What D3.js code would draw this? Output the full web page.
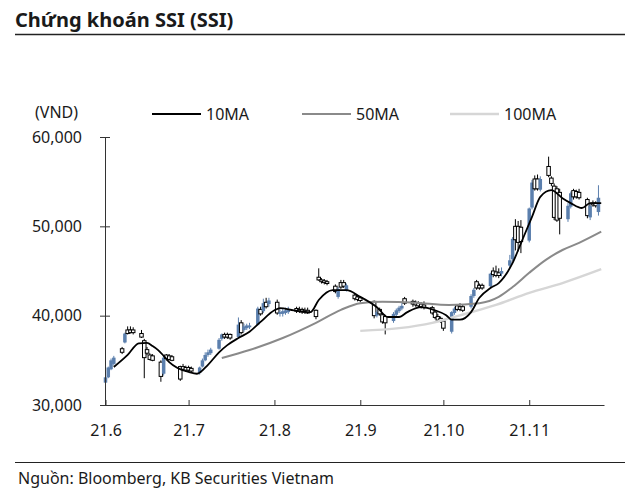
<!DOCTYPE html>
<html><head><meta charset="utf-8">
<script src="https://cdn.jsdelivr.net/npm/d3@7/dist/d3.min.js"></script>
<style>
html,body{margin:0;padding:0;background:#fff;}
svg{display:block;}
text{font-family:'Noto Sans',sans-serif;fill:#1a1a1a;}
</style></head>
<body>
<svg id="c" width="640" height="497"></svg>
<script>
// ---- DATA ----
const dates = ["2021-06-01","2021-06-02","2021-06-03","2021-06-04","2021-06-07","2021-06-08","2021-06-09","2021-06-10","2021-06-11","2021-06-14","2021-06-15","2021-06-16","2021-06-17","2021-06-18","2021-06-21","2021-06-22","2021-06-23","2021-06-24","2021-06-25","2021-06-28","2021-06-29","2021-06-30",
"2021-07-01","2021-07-02","2021-07-05","2021-07-06","2021-07-07","2021-07-08","2021-07-09","2021-07-12","2021-07-13","2021-07-14","2021-07-15","2021-07-16","2021-07-19","2021-07-20","2021-07-21","2021-07-22","2021-07-23","2021-07-26","2021-07-27","2021-07-28","2021-07-29","2021-07-30",
"2021-08-02","2021-08-03","2021-08-04","2021-08-05","2021-08-06","2021-08-09","2021-08-10","2021-08-11","2021-08-12","2021-08-13","2021-08-16","2021-08-17","2021-08-18","2021-08-19","2021-08-20","2021-08-23","2021-08-24","2021-08-25","2021-08-26","2021-08-27","2021-08-30","2021-08-31",
"2021-09-01","2021-09-06","2021-09-07","2021-09-08","2021-09-09","2021-09-10","2021-09-13","2021-09-14","2021-09-15","2021-09-16","2021-09-17","2021-09-20","2021-09-21","2021-09-22","2021-09-23","2021-09-24","2021-09-27","2021-09-28","2021-09-29","2021-09-30",
"2021-10-01","2021-10-04","2021-10-05","2021-10-06","2021-10-07","2021-10-08","2021-10-11","2021-10-12","2021-10-13","2021-10-14","2021-10-15","2021-10-18","2021-10-19","2021-10-20","2021-10-21","2021-10-22","2021-10-25","2021-10-26","2021-10-27","2021-10-28","2021-10-29",
"2021-11-01","2021-11-02","2021-11-03","2021-11-04","2021-11-05","2021-11-08","2021-11-09","2021-11-10","2021-11-11","2021-11-12","2021-11-15","2021-11-16","2021-11-17","2021-11-18","2021-11-19","2021-11-22","2021-11-23","2021-11-24","2021-11-25","2021-11-26"];

const open  = [32500,33100,34000,34600,36300,37000,38400,38400,38400,38000,37200,36200,35600,35500,34800,33500,35600,35500,35400,34300,34300,34200,
34200,34100,33600,34300,35000,35600,35800,36300,37400,37900,37900,37900,37600,39200,38400,38600,38700,39000,40700,40500,41500,41300,
41500,40200,40200,40300,40400,40800,40700,40700,40600,40600,40600,44300,44000,43900,43800,43300,42100,43700,43700,42800,42300,42100,
42000,41600,40000,40700,40100,39900,39400,40100,40500,40800,41900,41600,41500,41400,41300,41200,40900,40400,39900,39700,
39400,38200,40300,41100,41000,41000,41000,42200,43800,43400,43400,43300,45000,44900,44800,44700,45600,46300,50000,50000,49900,
48400,52100,55300,55300,54100,56700,55400,54500,54200,53800,50800,52200,54000,53900,53800,53000,51000,52600,52600,51600];

const high  = [33300,34300,35200,35500,36500,38100,38800,38800,38700,38400,37400,36500,35800,35700,35000,35500,35700,35700,35600,34400,34600,34400,
34400,34300,34300,35200,35900,36200,36400,37500,38000,38100,38100,38000,39800,39500,39100,39100,39200,41000,41000,41900,42000,42000,
41800,40700,40800,40900,41000,41000,41000,40900,40900,40900,40700,45300,44200,44100,44000,43500,43200,44000,44000,43600,42500,42300,
42200,41700,40600,40900,40200,40100,40400,40800,41100,41400,42100,41800,41700,41600,41500,41600,41100,40600,40200,39900,
39600,40500,41000,41300,41400,41200,42400,43100,44000,43600,43600,44800,45400,45600,45300,45400,46800,48800,50800,50600,50700,
52100,55200,55700,55800,55600,57800,55600,54800,54500,54200,52600,53900,54200,54100,54200,53200,52500,52900,52800,54600];

const low   = [32300,33000,33900,34400,35700,36900,37900,38000,37900,37500,33000,35600,35000,34900,32600,33300,35000,35000,34900,32700,33900,33700,
33800,33700,33400,34200,34900,35400,35600,36200,37200,37400,37400,37300,37500,37900,38200,38400,38500,38900,40000,40300,40800,41000,
40100,39900,39900,40100,40200,40300,40300,40200,40200,40200,39600,43900,43600,43500,43400,42500,41900,43000,43100,42700,41700,41600,
41500,39700,39800,40000,39100,37900,39200,39900,40300,40600,41200,41000,41000,40900,40800,40700,40100,39600,39300,39200,
38300,38000,40100,40500,40500,40400,40800,42000,42900,42900,42900,43200,44300,44300,44200,44400,45300,46100,47300,47200,47000,
48200,51900,54000,54000,53900,55500,54500,50700,50500,49100,50500,52000,53000,53100,53000,50900,50700,52200,52100,51200];

const close = [33100,34200,35000,35300,35900,38000,38000,38100,38100,37600,35300,35800,35100,35000,33200,35300,35200,35100,35000,32900,34000,33900,
33900,33800,34200,35000,35600,35900,36200,37300,37900,37600,37600,37500,39000,38100,38800,38900,38900,40800,40200,41400,41000,41700,
40300,40400,40500,40600,40700,40500,40500,40400,40400,40300,39900,44000,43800,43700,43600,42700,43000,43200,43300,43400,41900,41800,
41700,40000,40400,40200,39300,39200,40200,40600,40900,41100,41400,41300,41200,41100,41000,40900,40300,39800,39500,39400,
38600,40400,40800,40700,40700,40600,42200,42900,43100,43100,43100,44700,44600,44500,44500,45000,46200,48600,48500,48200,48300,
52000,54900,54200,54200,55300,55700,54800,51000,50700,50900,52300,53700,53300,53300,53200,51200,52300,52400,52300,53200];

const ma10Dates  = ["2021-06-04","2021-06-09","2021-06-13","2021-06-16","2021-06-18","2021-06-20","2021-06-22","2021-06-24","2021-06-27","2021-07-01","2021-07-04","2021-07-08","2021-07-12","2021-07-15","2021-07-19","2021-07-23","2021-07-27","2021-08-01","2021-08-03","2021-08-08","2021-08-14","2021-08-17","2021-08-22","2021-08-27","2021-09-01","2021-09-07","2021-09-11","2021-09-15","2021-09-18","2021-09-23","2021-09-28","2021-10-02","2021-10-04","2021-10-07","2021-10-11","2021-10-14","2021-10-18","2021-10-21","2021-10-26","2021-10-29","2021-11-02","2021-11-05","2021-11-09","2021-11-13","2021-11-16","2021-11-20","2021-11-23","2021-11-27"];
const ma10Values = [34250,35600,36900,36950,36600,36150,35500,34800,34150,33700,33500,34500,35900,36700,37500,38200,39300,40600,40850,40600,40400,41750,42850,42850,42100,40950,39850,39850,40400,40950,40600,40050,39550,39550,40400,42000,43100,43650,45900,48100,51050,53300,54050,53150,52600,52050,52600,52600];

const ma50Dates  = ["2021-07-13","2021-07-23","2021-08-04","2021-08-16","2021-08-25","2021-09-01","2021-09-09","2021-09-21","2021-10-03","2021-10-14","2021-10-21","2021-10-26","2021-11-01","2021-11-07","2021-11-13","2021-11-19","2021-11-27"];
const ma50Values = [35250,36150,37500,39200,40650,41400,41550,41450,41200,41400,42100,43200,44800,46250,47350,48150,49400];

const ma100Dates  = ["2021-09-01","2021-09-15","2021-09-27","2021-10-06","2021-10-20","2021-11-01","2021-11-13","2021-11-27"];
const ma100Values = [38300,38600,39200,39950,41200,42550,43650,45200];

const yTicks = [30000,40000,50000,60000];
const xTickDates = ["2021-06-01","2021-07-01","2021-08-01","2021-09-01","2021-10-01","2021-11-01"];
const xTickLabels = ["21.6","21.7","21.8","21.9","21.10","21.11"];
const legendLabels = ["10MA","50MA","100MA"];
const titleText = "Chứng khoán SSI (SSI)";
const unitText = "(VND)";
const sourceText = "Nguồn: Bloomberg, KB Securities Vietnam";

// ---- CHART ----
const parse = d3.timeParse("%Y-%m-%d");
const svg = d3.select("#c");
const x = d3.scaleTime().domain([parse("2021-06-01"), parse("2021-11-28")]).range([105.5, 604]);
const y = d3.scaleLinear().domain([30000, 60000]).range([405, 137]);

const BLUE = "#5b7fad";
const candles = dates.map((d,i)=>({date:parse(d), o:open[i], h:high[i], l:low[i], c:close[i]}));

// title
svg.append("text").attr("x",15).attr("y",27).attr("font-size",20).attr("font-weight",700).text(titleText);
svg.append("line").attr("x1",15).attr("x2",625).attr("y1",34.5).attr("y2",34.5).attr("stroke","#222").attr("stroke-width",1.3);

// candles
const cw = 3.5;
const g = svg.append("g");
const cg = g.selectAll("g.c").data(candles).join("g").attr("class","c");
cg.append("line")
  .attr("x1",d=>x(d.date)).attr("x2",d=>x(d.date))
  .attr("y1",d=>y(d.h)).attr("y2",d=>y(d.l))
  .attr("stroke",d=>d.c>=d.o?BLUE:"#000").attr("stroke-width",1);
cg.append("rect")
  .attr("x",d=>x(d.date)-cw/2).attr("width",cw)
  .attr("y",d=>y(Math.max(d.o,d.c)))
  .attr("height",d=>Math.max(1.5,Math.abs(y(d.o)-y(d.c))))
  .attr("fill",d=>d.c>=d.o?BLUE:"#fff")
  .attr("stroke",d=>d.c>=d.o?"none":"#000").attr("stroke-width",1);

// MA lines
function maLine(ds, vs, color, w){
  const pts = ds.map((d,i)=>({date:parse(d), v:vs[i]}));
  const gen = d3.line().x(d=>x(d.date)).y(d=>y(d.v)).curve(d3.curveMonotoneX);
  svg.append("path").datum(pts).attr("d",gen).attr("fill","none").attr("stroke",color).attr("stroke-width",w);
}
maLine(ma100Dates, ma100Values, "#d6d6d6", 2.4);
maLine(ma50Dates, ma50Values, "#8a8a8a", 2);
maLine(ma10Dates, ma10Values, "#000", 1.8);

// axes
const yAxis = d3.axisLeft(y).tickValues(yTicks).tickFormat(d3.format(",")).tickSizeInner(5).tickSizeOuter(0).tickPadding(18);
const ya = svg.append("g").attr("transform","translate(105,0)").call(yAxis);
ya.selectAll(".tick line").attr("x1",-5).attr("x2",5);
ya.selectAll("text").attr("font-size",16).attr("font-family","'Noto Sans',sans-serif").attr("fill","#1a1a1a");
ya.select(".domain").attr("stroke","#333");
ya.selectAll(".tick line").attr("stroke","#333");

const xAxis = d3.axisBottom(x).tickValues(xTickDates.map(parse)).tickFormat((d,i)=>xTickLabels[i]).tickSizeInner(-5).tickSizeOuter(0).tickPadding(20);
const xa = svg.append("g").attr("transform","translate(0,405)").call(xAxis);
xa.selectAll("text").attr("font-size",16).attr("font-family","'Noto Sans',sans-serif").attr("fill","#1a1a1a");
xa.select(".domain").attr("stroke","#333");
xa.selectAll(".tick line").attr("stroke","#333");

// unit
svg.append("text").attr("x",35).attr("y",118).attr("font-size",16).text(unitText);

// legend
const legColors = ["#000","#8a8a8a","#d6d6d6"];
const legWidths = [1.8,2,2.4];
const legX = [152,302,450];
legendLabels.forEach((t,i)=>{
  svg.append("line").attr("x1",legX[i]).attr("x2",legX[i]+49).attr("y1",114).attr("y2",114).attr("stroke",legColors[i]).attr("stroke-width",legWidths[i]);
  svg.append("text").attr("x",legX[i]+54).attr("y",120).attr("font-size",16).text(t);
});

// footer
svg.append("line").attr("x1",15).attr("x2",625).attr("y1",462.5).attr("y2",462.5).attr("stroke","#222").attr("stroke-width",1.2);
svg.append("text").attr("x",18).attr("y",484).attr("font-size",16).text(sourceText);
</script>
</body></html>
